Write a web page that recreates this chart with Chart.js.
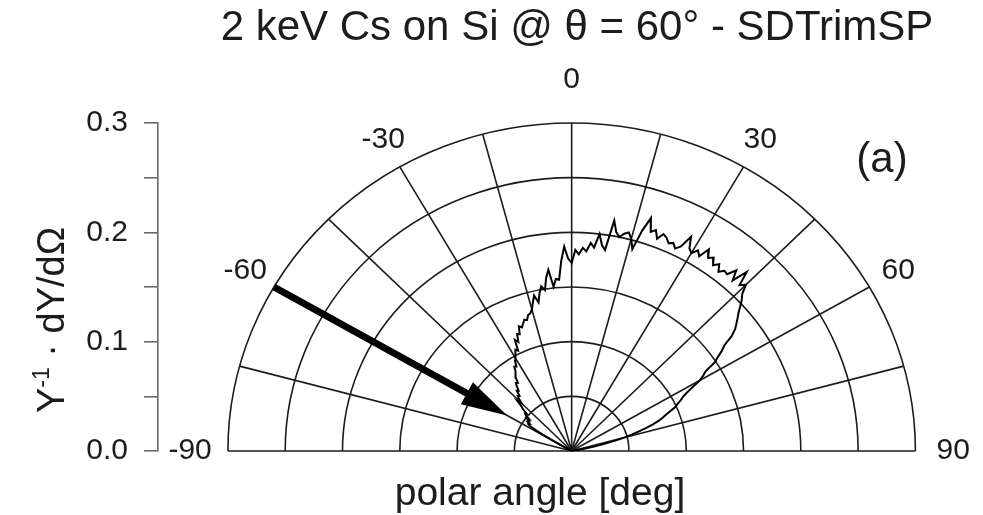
<!DOCTYPE html>
<html>
<head>
<meta charset="utf-8">
<script src="https://cdn.jsdelivr.net/npm/chart.js@4.4.1/dist/chart.umd.min.js"></script>
<style>
  html, body { margin: 0; padding: 0; background: #ffffff; }
  canvas { display: block; }
</style>
</head>
<body>
<canvas id="chart" width="983" height="515"></canvas>
<script>
// Emission polar angle (deg), 0 = surface normal, negative = towards the incoming beam
const polarAngles = [
  -62, -61, -60, -59, -58, -57, -56, -55, -54, -53,
  -52, -51, -50, -49, -48, -47, -46, -45, -44, -43,
  -42, -41, -40, -39, -38, -37, -36, -35, -34, -33,
  -32, -31, -30, -29, -28, -27, -26, -25, -24, -23,
  -22, -21, -20, -19, -18, -17, -16, -15, -14, -13,
  -12, -11, -10,  -9,  -8,  -7,  -6,  -5,  -4,  -3,
   -2,  -1,   0,   1,   2,   3,   4,   5,   6,   7,
    8,   9,  10,  11,  12,  13,  14,  15,  16,  17,
   18,  19,  20,  21,  22,  23,  24,  25,  26,  27,
   28,  29,  30,  31,  32,  33,  34,  35,  36,  37,
   38,  39,  40,  41,  42,  43,  44,  45,  46,  47,
   48,  49,  50,  51,  52,  53,  54,  55,  56,  57,
   58,  59,  60,  61,  62,  63,  64,  65,  66,  67,
   68,  69,  70,  71,  72,  73,  74,  75,  76,  77,
   78,  79,  80
];

// Normalised angular distribution Y^-1 dY/dOmega (SDTrimSP)
const yieldValues = [
  0.000, 0.010, 0.022, 0.034, 0.043, 0.045, 0.044, 0.047, 0.046, 0.049,
  0.047, 0.051, 0.053, 0.052, 0.057, 0.060, 0.066, 0.062, 0.066, 0.069,
  0.068, 0.073, 0.072, 0.076, 0.079, 0.078, 0.083, 0.085, 0.088, 0.092,
  0.091, 0.096, 0.098, 0.101, 0.105, 0.103, 0.113, 0.110, 0.117, 0.116,
  0.123, 0.121, 0.124, 0.127, 0.126, 0.130, 0.131, 0.134, 0.140, 0.146,
  0.139, 0.147, 0.153, 0.149, 0.160, 0.167, 0.151, 0.158, 0.157, 0.174,
  0.187, 0.176, 0.172, 0.184, 0.180, 0.186, 0.183, 0.191, 0.187, 0.200,
  0.190, 0.186, 0.214, 0.204, 0.200, 0.204, 0.206, 0.201, 0.192, 0.211,
  0.224, 0.212, 0.215, 0.208, 0.214, 0.212, 0.208, 0.210, 0.206, 0.210,
  0.222, 0.212, 0.209, 0.214, 0.210, 0.220, 0.213, 0.216, 0.210, 0.214,
  0.208, 0.212, 0.211, 0.219, 0.210, 0.224, 0.211, 0.215, 0.207, 0.203,
  0.198, 0.193, 0.189, 0.185, 0.181, 0.175, 0.165, 0.160, 0.154, 0.149,
  0.138, 0.134, 0.129, 0.121, 0.114, 0.109, 0.106, 0.102, 0.099, 0.094,
  0.089, 0.085, 0.081, 0.075, 0.069, 0.062, 0.055, 0.048, 0.040, 0.030,
  0.020, 0.010, 0.000
];

// Polar grid: rings and spokes, plus the labelled angles
const ringRadii = [0.05, 0.10, 0.15, 0.20, 0.25, 0.30];
const spokeAngles = [-90, -75, -60, -45, -30, -15, 0, 15, 30, 45, 60, 75, 90];
const angleLabels = [-90, -60, -30, 0, 30, 60, 90];

// Incoming Cs beam (angle of incidence and the radial span of the arrow)
const beamAngle = -60;
const beamSpan = [0.30, 0.065];

const TITLE = '2 keV Cs on Si @ \u03B8 = 60\u00B0 - SDTrimSP';
const X_TITLE = 'polar angle [deg]';
const PANEL = '(a)';

const FONT = '"Liberation Sans", Arial, Helvetica, sans-serif';
const INK = '#1c1c1c';
const AXIS = '#6a6a6a';

function toXY(deg, r) {
  const a = deg * Math.PI / 180;
  return { x: r * Math.sin(a), y: r * Math.cos(a) };
}

const curve = polarAngles.map((a, i) => toXY(a, yieldValues[i]));

function pix(chart, deg, r) {
  const p = toXY(deg, r);
  return [chart.scales.x.getPixelForValue(p.x), chart.scales.y.getPixelForValue(p.y)];
}

const polarFrame = {
  id: 'polarFrame',
  beforeDatasetsDraw(chart) {
    const { ctx, scales: { x, y } } = chart;
    const cx = x.getPixelForValue(0), cy = y.getPixelForValue(0);
    ctx.save();
    ctx.strokeStyle = INK;
    ctx.lineWidth = 1.6;
    ringRadii.forEach(r => {
      ctx.beginPath();
      ctx.ellipse(cx, cy, x.getPixelForValue(r) - cx, cy - y.getPixelForValue(r), 0, Math.PI, 2 * Math.PI);
      ctx.stroke();
    });
    const rMax = ringRadii[ringRadii.length - 1];
    spokeAngles.forEach(a => {
      const [ex, ey] = pix(chart, a, rMax);
      ctx.beginPath();
      ctx.moveTo(cx, cy);
      ctx.lineTo(ex, ey);
      ctx.stroke();
    });
    ctx.restore();
  },
  afterDatasetsDraw(chart) {
    const { ctx } = chart;
    ctx.save();

    // incoming beam arrow
    const [x0, y0] = pix(chart, beamAngle, beamSpan[0]);
    const [x1, y1] = pix(chart, beamAngle, beamSpan[1]);
    const len = Math.hypot(x1 - x0, y1 - y0);
    const ux = (x1 - x0) / len, uy = (y1 - y0) / len;
    const headLen = 46, headHalf = 12.5;
    const bx = x1 - ux * headLen, by = y1 - uy * headLen;
    ctx.strokeStyle = '#000';
    ctx.fillStyle = '#000';
    ctx.lineWidth = 7;
    ctx.lineCap = 'butt';
    ctx.beginPath();
    ctx.moveTo(x0, y0);
    ctx.lineTo(bx + ux * 4, by + uy * 4);
    ctx.stroke();
    ctx.beginPath();
    ctx.moveTo(x1, y1);
    ctx.lineTo(bx - uy * headHalf, by + ux * headHalf);
    ctx.lineTo(bx + uy * headHalf, by - ux * headHalf);
    ctx.closePath();
    ctx.fill();

    // angle labels round the half circle
    ctx.fillStyle = INK;
    ctx.font = '30px ' + FONT;
    ctx.textAlign = 'center';
    ctx.textBaseline = 'middle';
    angleLabels.forEach(a => {
      const r = a === 0 ? 0.34 : (Math.abs(a) === 90 ? 0.333 : 0.329);
      const [lx, ly] = pix(chart, a, r);
      ctx.fillText(String(a), lx, ly);
    });

    // panel letter
    ctx.font = '42px ' + FONT;
    ctx.fillText(PANEL, 882, 160);

    // chart title
    ctx.font = '42px ' + FONT;
    ctx.textBaseline = 'alphabetic';
    ctx.fillText(TITLE, 577, 40);

    // x axis title
    ctx.font = '39px ' + FONT;
    ctx.fillText(X_TITLE, 540, 505);

    // y axis title with superscript
    ctx.translate(64, 320);
    ctx.rotate(-Math.PI / 2);
    const runs = [
      { t: 'Y', f: '38px ' + FONT, dy: 0 },
      { t: '-1', f: '23px ' + FONT, dy: -15 },
      { t: ' \u00B7 dY/d\u03A9', f: '38px ' + FONT, dy: 0 }
    ];
    let total = 0;
    runs.forEach(run => { ctx.font = run.f; run.w = ctx.measureText(run.t).width; total += run.w; });
    let cur = -total / 2;
    ctx.textAlign = 'left';
    runs.forEach(run => {
      ctx.font = run.f;
      ctx.fillText(run.t, cur, run.dy);
      cur += run.w;
    });
    ctx.restore();
  }
};

new Chart(document.getElementById('chart'), {
  type: 'scatter',
  data: {
    datasets: [{
      data: curve,
      showLine: true,
      borderColor: '#000000',
      borderWidth: 2,
      pointRadius: 0,
      tension: 0,
      fill: false
    }]
  },
  options: {
    responsive: false,
    devicePixelRatio: 1,
    animation: false,
    layout: { padding: { top: 123, bottom: 64, left: 0, right: 8 } },
    plugins: { legend: { display: false }, tooltip: { enabled: false }, title: { display: false } },
    scales: {
      x: {
        type: 'linear',
        min: -0.361,
        max: 0.352,
        display: false
      },
      y: {
        type: 'linear',
        min: 0,
        max: 0.3,
        afterFit(scale) { scale.width = 158; },
        border: { display: true, color: AXIS, width: 1.6 },
        grid: { drawOnChartArea: false, drawTicks: true, tickLength: 14, color: AXIS, lineWidth: 1.6 },
        ticks: {
          stepSize: 0.05,
          padding: 16,
          color: INK,
          font: { family: FONT, size: 30 },
          callback(v) {
            const k = Math.round(v * 100);
            return k % 10 === 0 ? (k / 100).toFixed(1) : '';
          }
        }
      }
    }
  },
  plugins: [polarFrame]
});
</script>
</body>
</html>
